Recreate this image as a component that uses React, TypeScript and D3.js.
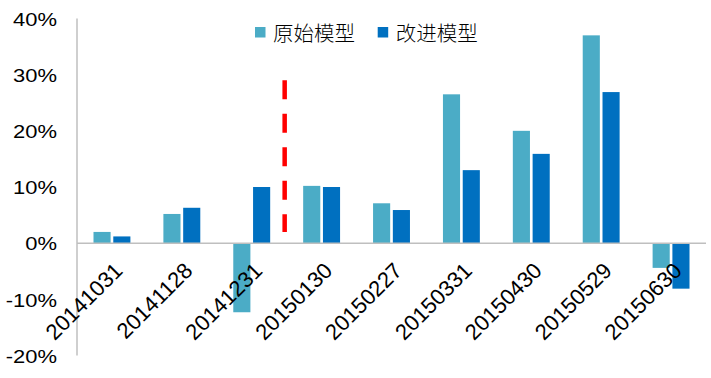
import React from "react";
import * as d3 from "d3";

const categories = ["20141031", "20141128", "20141231", "20150130", "20150227", "20150331", "20150430", "20150529", "20150630"];
const seriesNames = ["原始模型", "改进模型"];
const original = [2.0, 5.2, -12.3, 10.2, 7.1, 26.5, 20.0, 37.0, -4.4];
const improved = [1.2, 6.3, 10.0, 10.0, 5.9, 13.0, 15.9, 26.9, -8.1];
const yTicks = [-20, -10, 0, 10, 20, 30, 40];
const dividerRange = [2, 29];
const colors = ["#4bacc6", "#0070c0"];

const W = 711;
const H = 378;

export default function App() {
  const x = d3.scaleBand<string>().domain(categories).range([77, 706]).padding(0);
  const inner = d3.scaleBand<number>().domain([0, 1]).range([16.5, 53.4]).paddingInner(0.135);
  const y = d3.scaleLinear().domain([-20, 40]).range([355.5, 18.5]);
  const series = [original, improved];
  const divX = (x(categories[3]) as number) - 2;

  return (
    <svg width={W} height={H} style={{ position: "absolute", left: 0, top: 0, background: "#fff" }}
      fontFamily="'Liberation Sans', Arial, sans-serif">
      {series.map((vals, si) =>
        vals.map((v, i) => (
          <rect key={`${si}-${i}`}
            x={(x(categories[i]) as number) + (inner(si) as number)}
            y={Math.min(y(v), y(0))}
            width={inner.bandwidth()}
            height={Math.abs(y(v) - y(0))}
            fill={colors[si]} />
        ))
      )}
      <line x1={x.range()[0]} x2={x.range()[0]} y1={y(40)} y2={y(-20)} stroke="#bfbfbf" strokeWidth={1.5} />
      <line x1={x.range()[0]} x2={x.range()[1]} y1={y(0)} y2={y(0)} stroke="#bfbfbf" strokeWidth={1.5} />
      {yTicks.map((t) => (
        <text key={t} transform={`translate(57,${y(t) + 1}) scale(1.22,1)`} textAnchor="end"
          dominantBaseline="central" fontSize={18} fill="#000">{t}%</text>
      ))}
      {categories.map((c) => {
        const cx = (x(c) as number) + x.bandwidth() / 2 + 12;
        const cy = 272;
        return (
          <text key={c} transform={`translate(${cx},${cy}) rotate(-45)`} textAnchor="end"
            fontSize={22} fill="#000">{c}</text>
        );
      })}
      <line x1={divX} x2={divX} y1={y(dividerRange[1])} y2={y(dividerRange[0])} stroke="#ff0000"
        strokeWidth={4.5} strokeDasharray="19 14.5" />
      {seriesNames.map((n, i) => {
        const lx = [255, 377.7][i];
        return (
          <g key={n}>
            <rect x={lx} y={27} width={10.5} height={10.5} fill={colors[i]} />
            <text x={lx + 18} y={31.5} dominantBaseline="central" fontSize={20.5}
              fontFamily="'Noto Sans CJK SC', sans-serif" fontWeight={300} fill="#000">{n}</text>
          </g>
        );
      })}
    </svg>
  );
}
